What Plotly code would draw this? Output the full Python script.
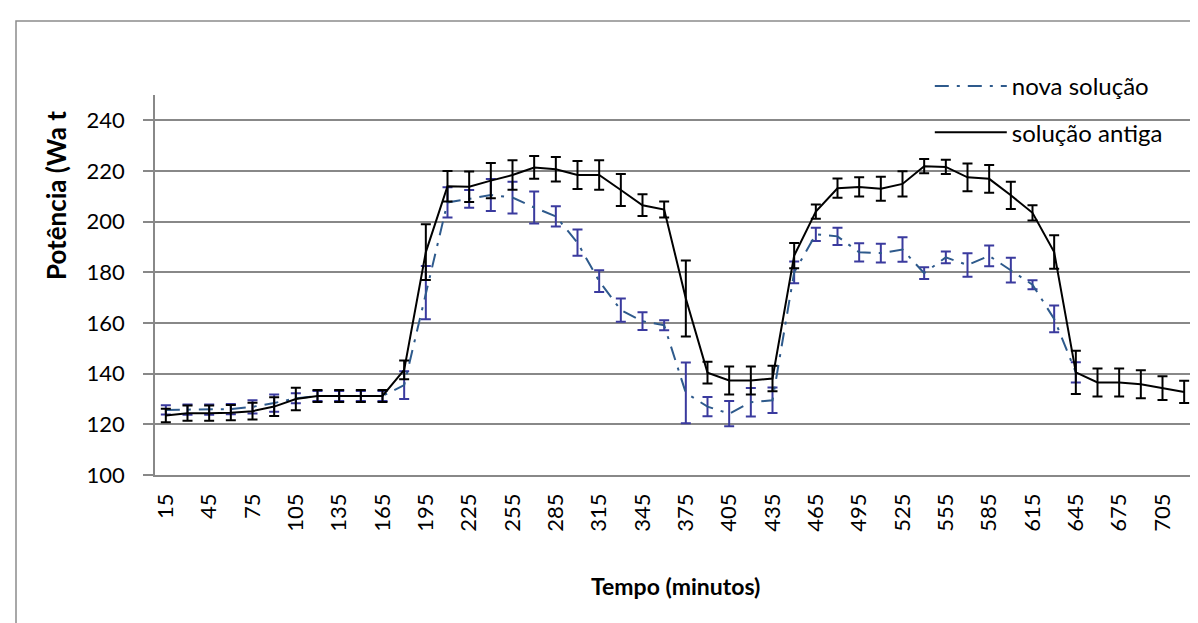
import plotly.graph_objects as go

# ---------------- data ----------------
tempo = [str(m) for m in range(15, 721, 15)]  # 15 .. 720 minutes
tick_labels = [str(m) for m in range(15, 706, 30)]

antiga = [123.5, 124.4, 124.4, 124.6, 125.2, 127.0, 130.0, 131.2, 131.2, 131.2,
          131.2, 141.5, 188.0, 214.0, 213.8, 216.2, 218.4, 221.4, 220.7, 218.4,
          218.4, 212.5, 206.5, 204.8, 169.7, 140.4, 137.3, 137.3, 138.1, 186.6,
          204.0, 213.2, 213.7, 213.0, 214.9, 221.9, 221.6, 217.5, 216.9, 210.4,
          203.5, 188.0, 140.5, 136.5, 136.5, 135.8, 134.3, 132.8]
antiga_err = [2.7, 3.0, 3.0, 3.0, 3.3, 3.7, 4.4, 2.4, 2.4, 2.4,
              2.4, 3.7, 11.0, 6.0, 6.0, 7.0, 5.8, 4.5, 4.8, 5.5,
              5.8, 6.3, 4.3, 3.2, 15.0, 4.3, 5.5, 5.5, 5.0, 5.0,
              2.8, 3.8, 3.8, 4.7, 5.0, 2.8, 2.8, 5.5, 5.5, 5.4,
              3.0, 6.6, 8.5, 5.5, 5.5, 5.5, 4.7, 4.4]

nova = [125.7, 125.8, 125.8, 126.0, 126.9, 128.4, 130.3, 131.2, 131.2, 131.2,
        131.2, 135.5, 172.0, 207.6, 209.0, 210.5, 209.5, 205.6, 202.1, 191.7,
        176.5, 165.1, 160.7, 159.1, 132.4, 127.0, 124.2, 128.7, 129.5, 180.0,
        195.0, 194.2, 187.9, 187.6, 189.0, 179.7, 185.9, 182.9, 186.5, 180.9,
        175.1, 161.6, 140.5]
nova_err = [1.8, 2.0, 2.0, 2.0, 2.6, 3.4, 2.0, 2.0, 2.0, 2.0,
            2.0, 5.5, 10.5, 6.0, 3.5, 6.3, 6.3, 6.3, 4.0, 5.2,
            4.3, 4.6, 3.5, 2.0, 12.0, 3.8, 5.0, 5.6, 5.0, 4.3,
            2.6, 3.4, 3.6, 3.7, 4.8, 2.3, 2.3, 4.6, 4.1, 4.9,
            1.8, 5.3, 4.0]

# ---------------- figure ----------------
FONT = "Lato"
GRID = "#888888"

fig = go.Figure()
fig.add_trace(go.Scatter(
    x=tempo[:len(nova)], y=nova, name="nova solução", mode="lines",
    line=dict(color="#2E5A8C", width=2, dash="14px,8px,3px,8px"),
    error_y=dict(type="data", array=nova_err, color="#3A3A9E", thickness=2, width=5),
    legendgroup="a",
))
fig.add_trace(go.Scatter(
    x=tempo, y=antiga, name="solução antiga", mode="lines",
    line=dict(color="#000000", width=2),
    error_y=dict(type="data", array=antiga_err, color="#000000", thickness=2, width=5),
    legendgroup="b",
))

fig.update_layout(
    width=1198, height=623,
    margin=dict(l=147, r=11, t=87, b=156),
    paper_bgcolor="white", plot_bgcolor="white",
    font=dict(family=FONT, size=22, color="#000000"),
    showlegend=True,
    legend=dict(x=0.745, xanchor="left", y=1.082, yanchor="top",
                bgcolor="rgba(0,0,0,0)", itemwidth=72, tracegroupgap=12,
                font=dict(family=FONT, size=24)),
    xaxis=dict(type="category", categoryorder="array", categoryarray=tempo,
               range=[-0.5, len(tempo) - 0.5],
               tickmode="array", tickvals=tick_labels, ticktext=tick_labels,
               tickangle=-90, showgrid=False, showline=True, linecolor=GRID,
               linewidth=1.5, ticks="", ticklabelstandoff=8,
               tickfont=dict(family=FONT, size=22)),
    yaxis=dict(range=[100, 250], tickmode="array",
               tickvals=[100, 120, 140, 160, 180, 200, 220, 240],
               showgrid=True, gridcolor=GRID, gridwidth=1.5,
               showline=True, linecolor=GRID, linewidth=1.5,
               ticks="outside", ticklen=10, tickcolor=GRID, tickwidth=1.5,
               ticklabelstandoff=14, zeroline=False,
               tickfont=dict(family=FONT, size=22)),
    annotations=[
        dict(text="<b>Tempo (minutos)</b>", xref="paper", yref="paper",
             x=0.5, y=(466.7 - 578) / 379.7, xanchor="center", yanchor="middle",
             showarrow=False, font=dict(family=FONT, size=23)),
        dict(text="<b>Potência (Wa t</b>", xref="paper", yref="paper",
             x=(48 - 147) / 1040, y=(466.7 - 188) / 379.7, xanchor="center",
             yanchor="middle", textangle=-90, showarrow=False,
             font=dict(family=FONT, size=26)),
    ],
    shapes=[dict(type="rect", xref="paper", yref="paper",
                 x0=(8 - 147) / 1040, x1=(1210 - 147) / 1040,
                 y0=(466.7 - 632) / 379.7, y1=(466.7 - 13) / 379.7,
                 line=dict(color="#8C8C8C", width=1.5), layer="below")],
)

fig.write_html("out.html")
